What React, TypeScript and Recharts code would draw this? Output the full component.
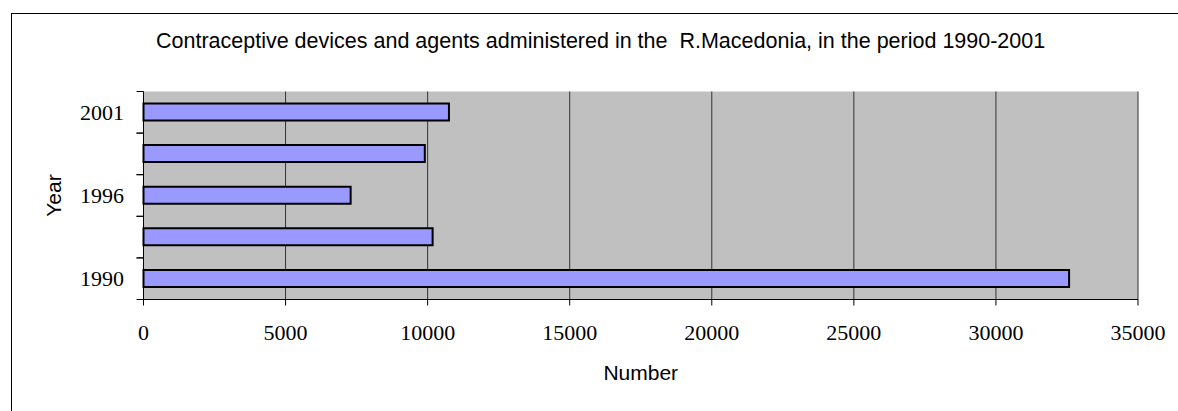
import React from 'react';
import { BarChart, Bar, XAxis, YAxis, CartesianGrid } from 'recharts';

const years = ['1990', '1993', '1996', '1999', '2001'];
const counts = [32575, 10175, 7290, 9900, 10750];
const xTicks = [0, 5000, 10000, 15000, 20000, 25000, 30000, 35000];
const titleText = 'Contraceptive devices and agents administered in the  R.Macedonia, in the period 1990-2001';
const xTitle = 'Number';
const yTitle = 'Year';

const data = years.map((y, i) => ({ year: y, value: counts[i] }));

const SANS = '"Liberation Sans", Arial, sans-serif';
const SERIF = '"Liberation Serif", "Times New Roman", serif';

const YTick = (props: any) => {
  const { x, y, payload, index } = props;
  const half = payload && typeof payload.offset === 'number' && payload.offset > 0 ? payload.offset : 20.8;
  return (
    <g>
      <line x1={x - 7} x2={x} y1={y - half} y2={y - half} stroke="#000" strokeWidth={1} />
      <line x1={x - 7} x2={x} y1={y + half} y2={y + half} stroke="#000" strokeWidth={1} />
      {index % 2 === 0 && (
        <text x={x - 19.5} y={y} dy="0.34em" textAnchor="end" fontFamily={SERIF} fontSize={22} fill="#000">
          {payload.value}
        </text>
      )}
    </g>
  );
};

export default function App() {
  return (
    <div style={{ position: 'absolute', left: 0, top: 0, width: 1178, height: 411, overflow: 'hidden', background: '#fff' }}>
      <div style={{ position: 'absolute', left: 11, top: 13, width: 1300, height: 600, borderTop: '1.3px solid #000', borderLeft: '1.3px solid #000' }} />
      <div style={{ position: 'absolute', left: 0, top: 0 }}>
        <BarChart
          width={1178}
          height={411}
          data={data}
          layout="vertical"
          margin={{ top: 91.5, right: 40, bottom: 0, left: 0 }}
        >
          <CartesianGrid horizontal={false} stroke="#333" fill="#C0C0C0" fillOpacity={1} />
          <XAxis
            type="number"
            domain={[0, 35000]}
            ticks={xTicks}
            interval={0}
            height={111.5}
            tickSize={6}
            tickMargin={19}
            axisLine={{ stroke: '#000' }}
            tickLine={{ stroke: '#000' }}
            tick={{ fontFamily: SERIF, fontSize: 22, fill: '#000' }}
            label={{
              content: (p: any) => {
                const vb = p.viewBox || {};
                return (
                  <text x={vb.x + vb.width / 2} y={vb.y + 80} textAnchor="middle" fontFamily={SANS} fontSize={21} fill="#000">
                    {xTitle}
                  </text>
                );
              },
            }}
          />
          <XAxis
            xAxisId="top"
            orientation="top"
            type="number"
            domain={[0, 35000]}
            height={0}
            tick={false}
            tickLine={false}
            axisLine={{ stroke: '#808080' }}
          />
          <YAxis
            type="category"
            dataKey="year"
            reversed
            width={143.5}
            interval={0}
            tickSize={0}
            tickMargin={0}
            tickLine={false}
            axisLine={{ stroke: '#000' }}
            tick={<YTick />}
            label={{
              content: (p: any) => {
                const vb = p.viewBox || {};
                const cx = vb.x + 61;
                const cy = vb.y + vb.height / 2;
                return (
                  <text x={cx} y={cy} textAnchor="middle" fontFamily={SANS} fontSize={21} fill="#000" transform={`rotate(-90 ${cx} ${cy})`}>
                    {yTitle}
                  </text>
                );
              },
            }}
          />
          <YAxis
            yAxisId="right"
            orientation="right"
            type="number"
            width={0}
            tick={false}
            tickLine={false}
            axisLine={{ stroke: '#808080' }}
          />
          <Bar dataKey="value" fill="#9999FF" stroke="#000" strokeWidth={2} barSize={17} isAnimationActive={false} />
        </BarChart>
      </div>
      <svg width={1178} height={411} style={{ position: 'absolute', left: 0, top: 0, pointerEvents: 'none' }}>
        <text x={600.6} y={48} textAnchor="middle" fontFamily={SANS} fontSize={21.5} fill="#000" style={{ whiteSpace: 'pre' }}>
          {titleText}
        </text>
      </svg>
    </div>
  );
}
